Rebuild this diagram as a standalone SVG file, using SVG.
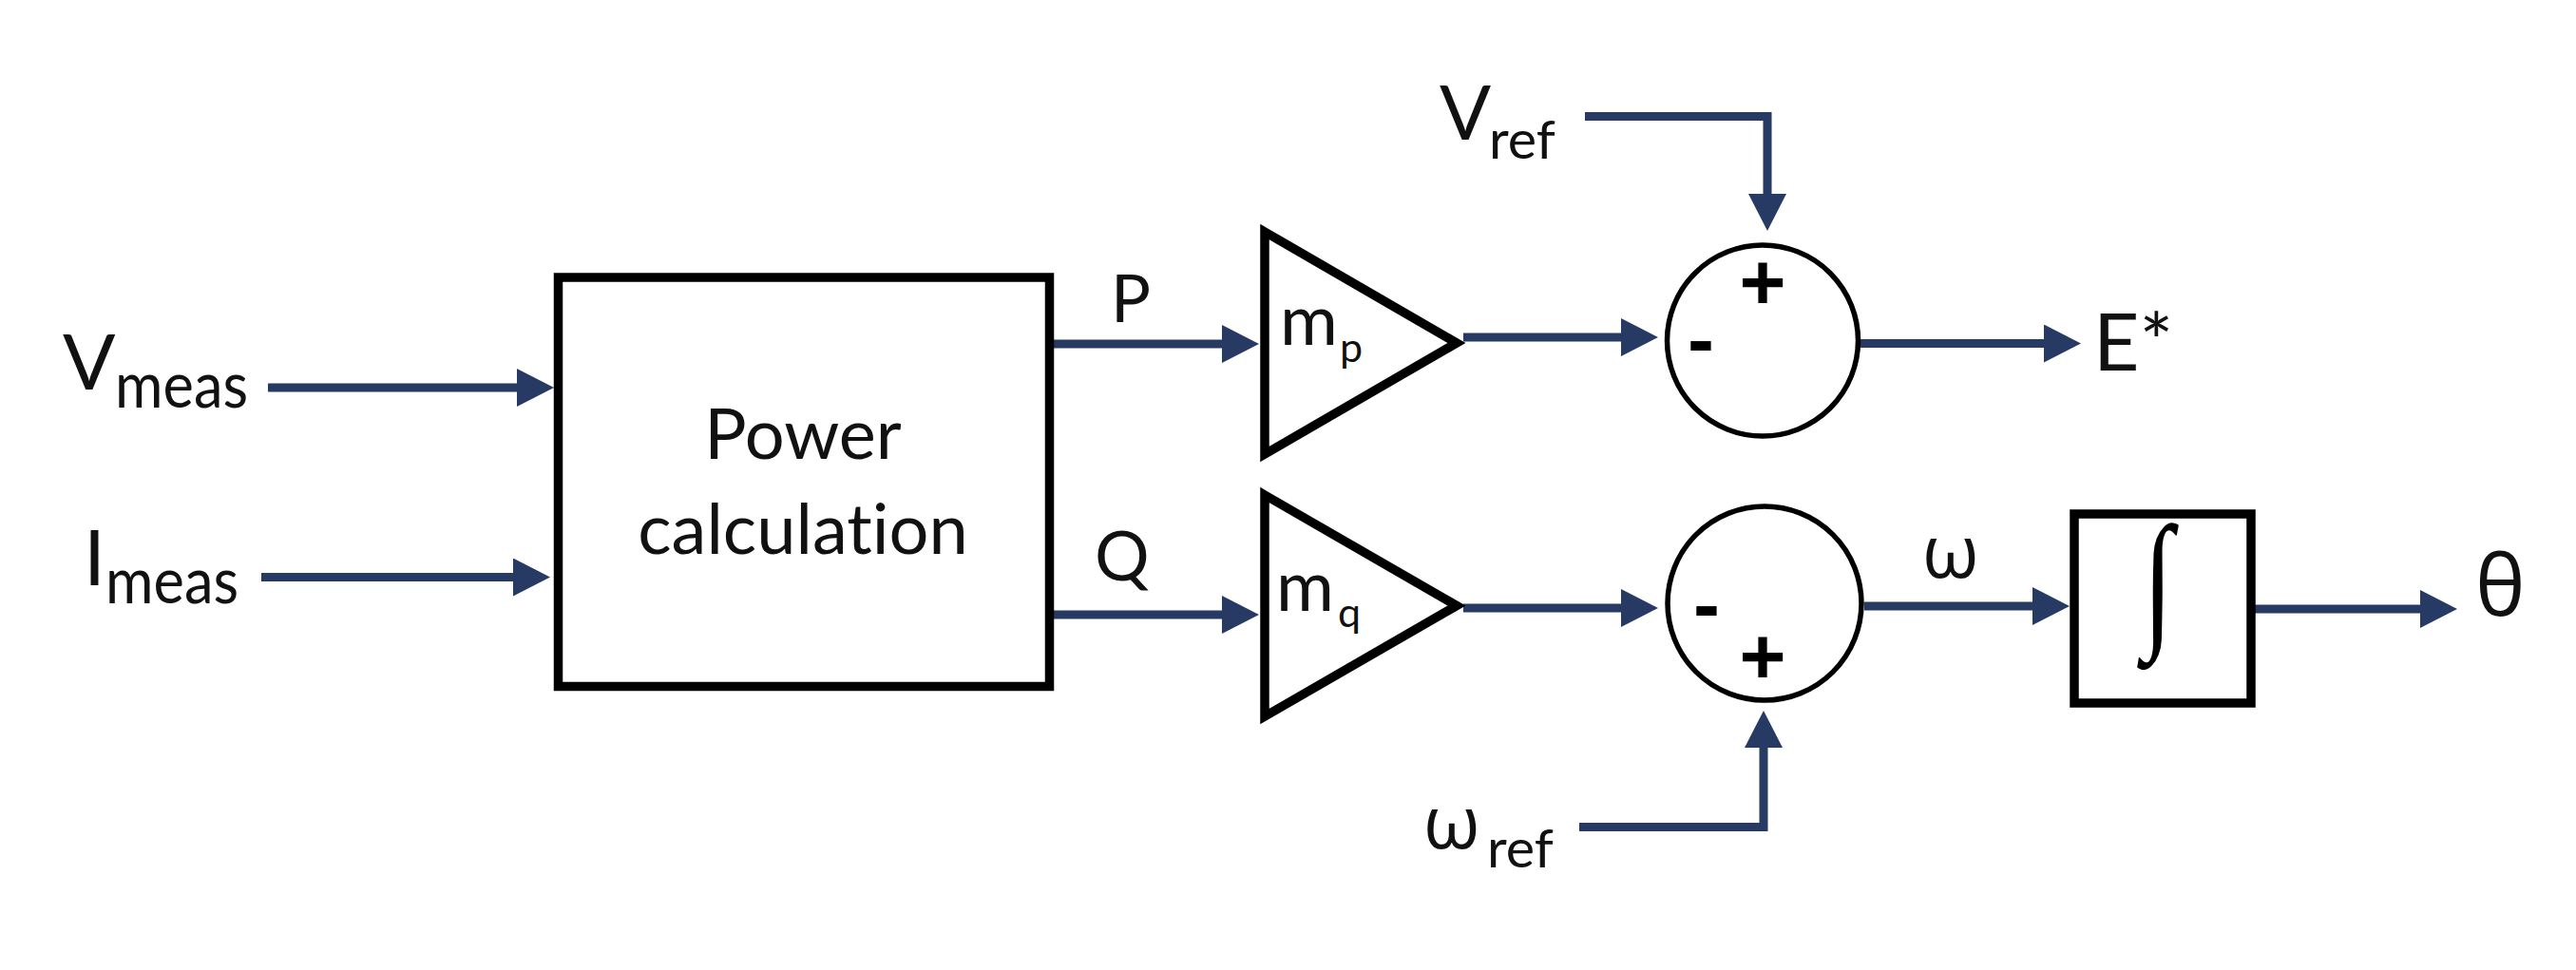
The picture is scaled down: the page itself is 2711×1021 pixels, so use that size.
<svg xmlns="http://www.w3.org/2000/svg" width="2711" height="1021" viewBox="0 0 2711 1021">
<style>
.blk{fill:none;stroke:#000;stroke-width:9.5;stroke-linejoin:miter}
.sum{fill:#fff;stroke:#000;stroke-width:5.5}
.con{fill:none;stroke:#263A64;stroke-width:9;stroke-linejoin:miter;stroke-linecap:butt}
.t{font-family:Lato,'Open Sans',sans-serif;fill:#111;font-variant-ligatures:none}
.g{font-family:'Open Sans','DejaVu Sans',sans-serif;fill:#111}
.sg{font-family:'Liberation Sans',Arial,sans-serif;font-weight:bold;fill:#000;text-anchor:middle}
</style>
<defs>
<marker id="ah" viewBox="0 0 39 40" markerUnits="userSpaceOnUse" markerWidth="39" markerHeight="40" refX="2" refY="20" orient="auto">
<path d="M0,0 L39,20 L0,40 Z" fill="#263A64"/>
</marker>
</defs>
<rect width="2711" height="1021" fill="#fff"/>
<g id="connectors">
<path class="con" d="M282,408 H546" marker-end="url(#ah)"/>
<path class="con" d="M275,607.5 H542" marker-end="url(#ah)"/>
<path class="con" d="M1109,362 H1288" marker-end="url(#ah)"/>
<path class="con" d="M1109,647 H1288" marker-end="url(#ah)"/>
<path class="con" d="M1540,355 H1708" marker-end="url(#ah)"/>
<path class="con" d="M1540,640 H1708" marker-end="url(#ah)"/>
<path class="con" d="M1668,122.5 H1860 V206" marker-end="url(#ah)"/>
<path class="con" d="M1662,870.5 H1856 V785" marker-end="url(#ah)"/>
<path class="con" d="M1957,361.5 H2153" marker-end="url(#ah)"/>
<path class="con" d="M1962,638 H2141" marker-end="url(#ah)"/>
<path class="con" d="M2373,641 H2549" marker-end="url(#ah)"/>
</g>
<g id="in-vmeas"><text class="t" x="66" y="410" font-size="82">V</text><text class="t" x="121" y="429" font-size="67" textLength="140" lengthAdjust="spacingAndGlyphs">meas</text></g>
<g id="in-imeas"><text class="t" x="88" y="616" font-size="82">I</text><text class="t" x="111" y="635" font-size="67" textLength="140" lengthAdjust="spacingAndGlyphs">meas</text></g>
<g id="power-calc">
<rect class="blk" x="587.5" y="292" width="517" height="430.5"/>
<text class="t" x="845" y="483" font-size="74" text-anchor="middle">Power</text>
<text class="t" x="845" y="583" font-size="74" text-anchor="middle">calculation</text>
</g>
<g id="lbl-p"><text class="t" x="1169" y="339" font-size="70">P</text></g>
<g id="lbl-q"><text class="t" x="1152" y="611" font-size="72">Q</text></g>
<g id="gain-mp">
<path class="blk" d="M1331,244 L1533,361 L1331,478 Z"/>
<text class="t" x="1347" y="362.5" font-size="74">m</text><text class="t" x="1410" y="381" font-size="43">p</text>
</g>
<g id="gain-mq">
<path class="blk" d="M1331,521 L1533,637.5 L1331,754 Z"/>
<text class="t" x="1343" y="643" font-size="74">m</text><text class="t" x="1408" y="660" font-size="43">q</text>
</g>
<g id="in-vref"><text class="t" x="1515" y="147" font-size="80">V</text><text class="t" x="1567" y="167" font-size="57" textLength="70" lengthAdjust="spacingAndGlyphs">ref</text></g>
<g id="in-wref"><text class="g" x="1498" y="893" font-size="77">ω</text><text class="t" x="1565" y="913" font-size="56" textLength="70" lengthAdjust="spacingAndGlyphs">ref</text></g>
<g id="sum-e">
<circle class="sum" cx="1855" cy="358.5" r="100.5"/>
<text class="sg" x="1855" y="325.7" font-size="84">+</text>
<text class="sg" x="1790" y="385.5" font-size="84">-</text>
</g>
<g id="sum-w">
<circle class="sum" cx="1857" cy="635" r="102"/>
<text class="sg" x="1796" y="665" font-size="84">-</text>
<text class="sg" x="1855" y="719.7" font-size="84">+</text>
</g>
<g id="out-e"><text class="t" x="2203" y="390" font-size="84">E*</text></g>
<g id="lbl-w"><text class="g" x="2023" y="608" font-size="77">ω</text></g>
<g id="integrator">
<rect class="blk" x="2183" y="541" width="186" height="199"/>
<text transform="translate(2271,663) scale(1.1,1.5)" x="0" y="0" font-family="'Liberation Serif',serif" font-size="105" text-anchor="middle" fill="#000">∫</text>
</g>
<g id="out-theta"><text class="g" x="2605" y="648" font-size="89">θ</text></g>
</svg>
